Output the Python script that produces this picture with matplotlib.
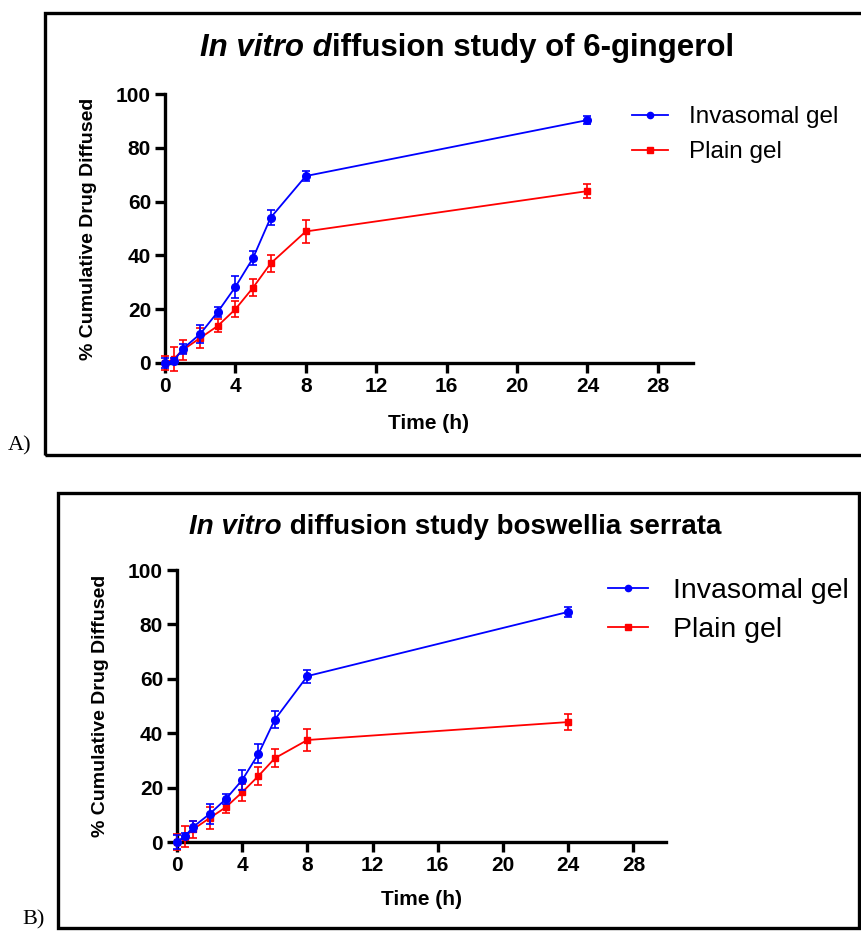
import numpy as np
import matplotlib.pyplot as plt
from matplotlib.patches import Rectangle
from matplotlib.lines import Line2D

plt.rcParams['font.family'] = ['Liberation Sans', 'DejaVu Sans']

# sampling times (h)
time_h = [0, 0.5, 1, 2, 3, 4, 5, 6, 8, 24]

# 6-gingerol release (%)
ging_inv = [0.0, 0.7, 5.2, 10.8, 19.0, 28.3, 39.0, 54.0, 69.5, 90.3]
ging_inv_sd = [2.0, 1.0, 1.8, 3.4, 2.0, 4.0, 2.5, 2.8, 2.0, 1.5]
ging_plain = [0.0, 1.5, 4.8, 9.3, 13.8, 20.0, 28.0, 37.0, 48.9, 63.9]
ging_plain_sd = [2.5, 4.3, 3.6, 3.7, 2.4, 3.0, 3.1, 3.2, 4.3, 2.7]

# boswellia serrata release (%)
bos_inv = [0.0, 2.2, 5.6, 10.3, 15.8, 22.8, 32.4, 45.0, 61.0, 84.6]
bos_inv_sd = [2.5, 1.0, 2.0, 3.5, 1.7, 3.8, 3.5, 3.0, 2.4, 1.8]
bos_plain = [0.0, 2.0, 4.7, 8.8, 12.8, 18.3, 24.3, 30.8, 37.5, 44.1]
bos_plain_sd = [3.0, 4.0, 3.2, 4.0, 2.1, 3.2, 3.2, 3.3, 4.2, 2.8]

series_names = ['Invasomal gel', 'Plain gel']
x_ticks = [0, 4, 8, 12, 16, 20, 24, 28]
y_ticks = [0, 20, 40, 60, 80, 100]

BLUE = '#0000FF'
RED = '#FF0000'

W, H = 862, 931
fig = plt.figure(figsize=(W / 100, H / 100), dpi=100)


def px_axes(left, right, bottom, top):
    return fig.add_axes([left / W, 1 - bottom / H, (right - left) / W, (bottom - top) / H])


def mixed_title(x, y, parts, size):
    # centred bold line built from italic and upright pieces
    r = fig.canvas.get_renderer()
    texts = [fig.text(0, 1 - y / H, s, fontsize=size, fontweight='bold', style=st,
                      ha='left', va='center') for s, st in parts]
    widths = [t.get_window_extent(r).width for t in texts]
    cur = x - sum(widths) / 2
    for t, w in zip(texts, widths):
        t.set_x(cur / W)
        cur += w


def draw_panel(ax, inv, inv_sd, plain, plain_sd, pads, leg):
    ax.errorbar(time_h, inv, yerr=inv_sd, color=BLUE, marker='o', ms=5.5,
                lw=1.3, elinewidth=1.2, capsize=3, capthick=1.2,
                clip_on=False, zorder=4)
    ax.errorbar(time_h, plain, yerr=plain_sd, color=RED, marker='s', ms=5,
                lw=1.3, elinewidth=1.2, capsize=3, capthick=1.2,
                clip_on=False, zorder=3)
    ax.set_xlim(0, 30)
    ax.set_ylim(0, 100)
    ax.set_xticks(x_ticks)
    ax.set_yticks(y_ticks)
    for side in ['top', 'right']:
        ax.spines[side].set_visible(False)
    for side in ['left', 'bottom']:
        ax.spines[side].set_linewidth(2.4)
    ax.tick_params(width=2.4, length=7, labelsize=15, pad=3)
    for lab in ax.get_xticklabels() + ax.get_yticklabels():
        lab.set_fontweight('bold')
    ax.set_xlabel('Time (h)', fontsize=15, fontweight='bold', labelpad=pads[0])
    ax.set_ylabel('% Cumulative Drug Diffused', fontsize=14, fontweight='bold', labelpad=pads[1])

    lx, ly, size, hlen, hpad, gap = leg
    handles = [Line2D([], [], color=BLUE, marker='o', ms=4.5, lw=1.3),
               Line2D([], [], color=RED, marker='s', ms=4.5, lw=1.3)]
    fig.legend(handles, series_names, loc='upper left',
               bbox_to_anchor=(lx / W, 1 - ly / H),
               frameon=False, fontsize=size, handlelength=hlen,
               handletextpad=hpad, labelspacing=gap,
               borderaxespad=0, borderpad=0)


# panel A
ax1 = px_axes(165, 693, 363, 94)
draw_panel(ax1, ging_inv, ging_inv_sd, ging_plain, ging_plain_sd,
           (13, 14), (632, 106, 17.5, 1.5, 0.85, 0.55))
fig.patches.append(Rectangle((45 / W, 1 - 455 / H), 830 / W, 442 / H,
                             transform=fig.transFigure, fill=False, lw=2.4, ec='black'))
mixed_title(467, 48, [('In vitro d', 'italic'), ('iffusion study of 6-gingerol', 'normal')], 22.5)
fig.text(8 / W, 1 - 455 / H, 'A)', fontsize=16, family='Liberation Serif', ha='left', va='bottom')

# panel B
ax2 = px_axes(177, 666, 842, 570)
draw_panel(ax2, bos_inv, bos_inv_sd, bos_plain, bos_plain_sd,
           (11, 14), (608, 578, 20.5, 1.4, 0.9, 0.45))
fig.patches.append(Rectangle((58 / W, 1 - 928 / H), 801 / W, 435 / H,
                             transform=fig.transFigure, fill=False, lw=2.4, ec='black'))
mixed_title(455, 527, [('In vitro', 'italic'), (' diffusion study boswellia serrata', 'normal')], 20)
fig.text(22 / W, 1 - 929 / H, 'B)', fontsize=16, family='Liberation Serif', ha='left', va='bottom')

fig.savefig('out.png', dpi=100)
